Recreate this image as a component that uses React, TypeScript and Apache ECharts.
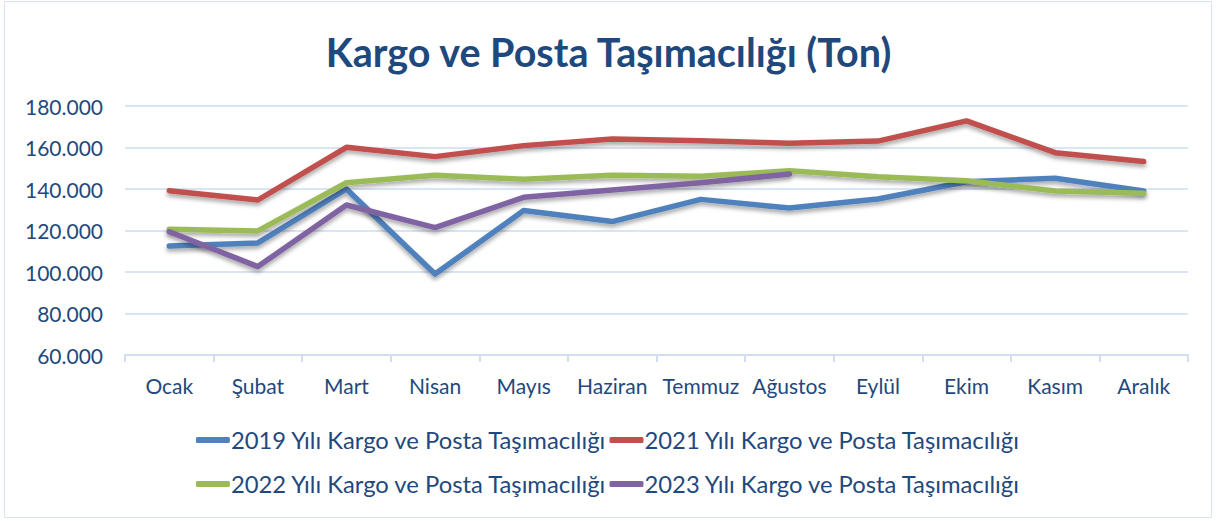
import React, { useEffect, useRef } from "react";
import * as echarts from "echarts";

const months = ["Ocak", "Şubat", "Mart", "Nisan", "Mayıs", "Haziran", "Temmuz", "Ağustos", "Eylül", "Ekim", "Kasım", "Aralık"];
const s2019 = [112500, 114000, 140000, 99000, 129600, 124300, 135000, 130800, 135200, 143500, 145200, 139000];
const s2021 = [139200, 134700, 160100, 155600, 160900, 164100, 163300, 162000, 163100, 172800, 157500, 153200];
const s2022 = [120600, 119800, 143000, 146600, 144700, 146600, 146100, 148800, 145900, 144000, 139000, 137900];
const s2023 = [119400, 102600, 132300, 121400, 136000, 139500, 143000, 147200];
const names = [
  "2019 Yılı Kargo ve Posta Taşımacılığı",
  "2021 Yılı Kargo ve Posta Taşımacılığı",
  "2022 Yılı Kargo ve Posta Taşımacılığı",
  "2023 Yılı Kargo ve Posta Taşımacılığı",
];
const colors = ["#4F81BD", "#C0504D", "#9BBB59", "#8064A2"];
const FONT = "Lato, 'Noto Sans', sans-serif";
const TEXT = "#1F497D";

export default function App() {
  const ref = useRef<HTMLDivElement>(null);
  useEffect(() => {
    const chart = echarts.init(ref.current!, null, { renderer: "svg" });
    const mk = (i: number, data: number[]) => ({
      name: names[i],
      type: "line",
      data,
      symbol: "none",
      lineStyle: {
        width: 5.5,
        color: colors[i],
        cap: "round",
        join: "round",
        shadowColor: "rgba(0,0,0,0.35)",
        shadowBlur: 4,
        shadowOffsetY: 3,
      },
      itemStyle: { color: colors[i] },
    });
    const legendCommon = {
      left: "center",
      icon: "roundRect",
      itemWidth: 34,
      itemHeight: 6,
      itemGap: 2,
      textStyle: { color: TEXT, fontSize: 23.8, fontFamily: FONT, padding: [0, 0, 0, -4] },
    };
    chart.setOption({
      animation: false,
      backgroundColor: "#fff",
      title: {
        text: "Kargo ve Posta Taşımacılığı (Ton)",
        left: "center",
        top: 26,
        textStyle: { color: TEXT, fontSize: 39.5, fontWeight: "bold", fontFamily: FONT },
      },
      graphic: [
        {
          type: "rect",
          shape: { x: 4.5, y: 1.5, width: 1207, height: 516 },
          style: { fill: "none", stroke: "#D9E3F0", lineWidth: 1 },
          silent: true,
        },
      ],
      legend: [
        { ...legendCommon, top: 423, data: [names[0], names[1]] },
        { ...legendCommon, top: 467, data: [names[2], names[3]] },
      ],
      grid: { left: 125, right: 29, top: 106, bottom: 166 },
      xAxis: {
        type: "category",
        data: months,
        boundaryGap: true,
        axisLine: { lineStyle: { color: "#D3DEF0", width: 2 } },
        axisTick: { show: true, length: 7, lineStyle: { color: "#D3DEF0", width: 2 } },
        axisLabel: { color: TEXT, fontSize: 21, fontFamily: FONT, margin: 20, interval: 0 },
      },
      yAxis: {
        type: "value",
        min: 60000,
        max: 180000,
        interval: 20000,
        axisLine: { show: false },
        axisTick: { show: false },
        splitLine: { lineStyle: { color: "#D9E4F4", width: 2 } },
        axisLabel: {
          color: TEXT,
          fontSize: 21,
          fontFamily: FONT,
          margin: 22,
          formatter: (v: number) => (v / 1000).toFixed(3),
        },
      },
      series: [mk(0, s2019), mk(1, s2021), mk(2, s2022), mk(3, s2023)],
    });
    return () => chart.dispose();
  }, []);
  return (
    <div
      ref={ref}
      style={{ position: "fixed", left: 0, top: 0, width: 1217, height: 521 }}
    />
  );
}
